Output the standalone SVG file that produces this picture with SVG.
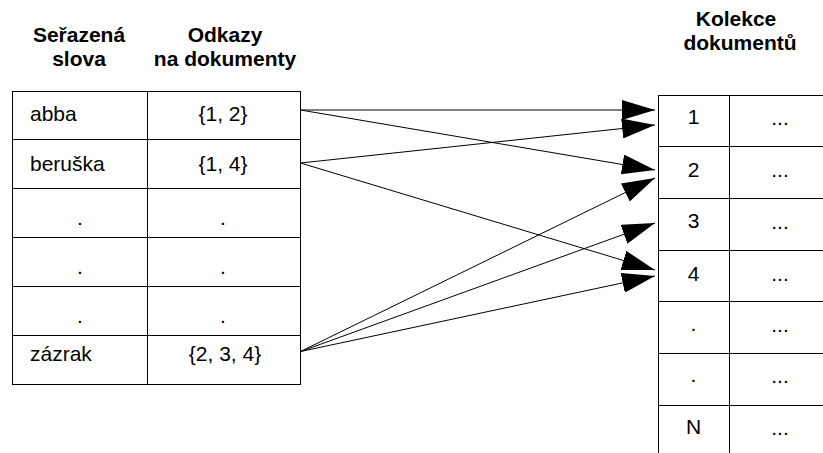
<svg xmlns="http://www.w3.org/2000/svg" width="823" height="453" viewBox="0 0 823 453">
<style>
.cell{fill:#fff;stroke:#000;stroke-width:1}
.t{font-family:"Liberation Sans",Arial,sans-serif;font-size:21px;fill:#000}
.h{font-family:"Liberation Sans",Arial,sans-serif;font-size:21px;font-weight:bold;fill:#000;text-anchor:middle}
.m{text-anchor:middle}
.con{stroke:#000;stroke-width:1;fill:none;marker-end:url(#arr)}
</style>
<defs>
<marker id="arr" markerUnits="userSpaceOnUse" markerWidth="33" markerHeight="20" viewBox="0 0 33 20" refX="33" refY="10" orient="auto">
<path d="M0,0 L33,10 L0,20 z" fill="#000"/>
</marker>
</defs>
<rect width="823" height="453" fill="#fff"/>
<g id="headers">
<text class="h" x="79" y="42">Seřazená</text>
<text class="h" x="79" y="66">slova</text>
<text class="h" x="225" y="42">Odkazy</text>
<text class="h" x="225" y="66">na dokumenty</text>
<text class="h" x="736" y="26">Kolekce</text>
<text class="h" x="740" y="50">dokumentů</text>
</g>
<g id="words">
<g id="w-abba"><rect class="cell" x="12.5" y="91.5" width="135" height="48"/><rect class="cell" x="147.5" y="91.5" width="153" height="48"/><text class="t" x="30" y="121">abba</text><text class="t m" x="223" y="121">{1, 2}</text></g>
<g id="w-beruska"><rect class="cell" x="12.5" y="139.5" width="135" height="49"/><rect class="cell" x="147.5" y="139.5" width="153" height="49"/><text class="t" x="30" y="171">beruška</text><text class="t m" x="223" y="171">{1, 4}</text></g>
<g id="w-dot1"><rect class="cell" x="12.5" y="188.5" width="135" height="49"/><rect class="cell" x="147.5" y="188.5" width="153" height="49"/><text class="t m" x="80" y="225">.</text><text class="t m" x="223" y="225">.</text></g>
<g id="w-dot2"><rect class="cell" x="12.5" y="237.5" width="135" height="49"/><rect class="cell" x="147.5" y="237.5" width="153" height="49"/><text class="t m" x="80" y="274">.</text><text class="t m" x="223" y="274">.</text></g>
<g id="w-dot3"><rect class="cell" x="12.5" y="286.5" width="135" height="49"/><rect class="cell" x="147.5" y="286.5" width="153" height="49"/><text class="t m" x="80" y="323">.</text><text class="t m" x="223" y="323">.</text></g>
<g id="w-zazrak"><rect class="cell" x="12.5" y="335.5" width="135" height="49"/><rect class="cell" x="147.5" y="335.5" width="153" height="49"/><text class="t" x="30" y="361">zázrak</text><text class="t m" x="225" y="361">{2, 3, 4}</text></g>
</g>
<g id="documents">
<g id="d-1"><rect class="cell" x="658.5" y="95.5" width="71" height="51"/><rect class="cell" x="729.5" y="95.5" width="102" height="51"/><text class="t m" x="693.5" y="124">1</text><text class="t m" x="780" y="125">...</text></g>
<g id="d-2"><rect class="cell" x="658.5" y="146.5" width="71" height="52"/><rect class="cell" x="729.5" y="146.5" width="102" height="52"/><text class="t m" x="693.5" y="177">2</text><text class="t m" x="780" y="177">...</text></g>
<g id="d-3"><rect class="cell" x="658.5" y="198.5" width="71" height="52"/><rect class="cell" x="729.5" y="198.5" width="102" height="52"/><text class="t m" x="693.5" y="228">3</text><text class="t m" x="780" y="229">...</text></g>
<g id="d-4"><rect class="cell" x="658.5" y="250.5" width="71" height="51"/><rect class="cell" x="729.5" y="250.5" width="102" height="51"/><text class="t m" x="693.5" y="281">4</text><text class="t m" x="780" y="281">...</text></g>
<g id="d-dot1"><rect class="cell" x="658.5" y="301.5" width="71" height="52"/><rect class="cell" x="729.5" y="301.5" width="102" height="52"/><text class="t m" x="693.5" y="331">.</text><text class="t m" x="780" y="332">...</text></g>
<g id="d-dot2"><rect class="cell" x="658.5" y="353.5" width="71" height="52"/><rect class="cell" x="729.5" y="353.5" width="102" height="52"/><text class="t m" x="693.5" y="382">.</text><text class="t m" x="780" y="383">...</text></g>
<g id="d-N"><rect class="cell" x="658.5" y="405.5" width="71" height="52"/><rect class="cell" x="729.5" y="405.5" width="102" height="52"/><text class="t m" x="693.5" y="434">N</text><text class="t m" x="780" y="435">...</text></g>
</g>
<g id="connectors">
<line class="con" x1="300.5" y1="110" x2="655" y2="110"/>
<line class="con" x1="300.5" y1="110" x2="655" y2="170"/>
<line class="con" x1="300.5" y1="163" x2="655" y2="125"/>
<line class="con" x1="300.5" y1="163" x2="655" y2="270"/>
<line class="con" x1="300.5" y1="351.5" x2="655" y2="178"/>
<line class="con" x1="300.5" y1="351.5" x2="655" y2="223"/>
<line class="con" x1="300.5" y1="351.5" x2="655" y2="276"/>
</g>
</svg>
